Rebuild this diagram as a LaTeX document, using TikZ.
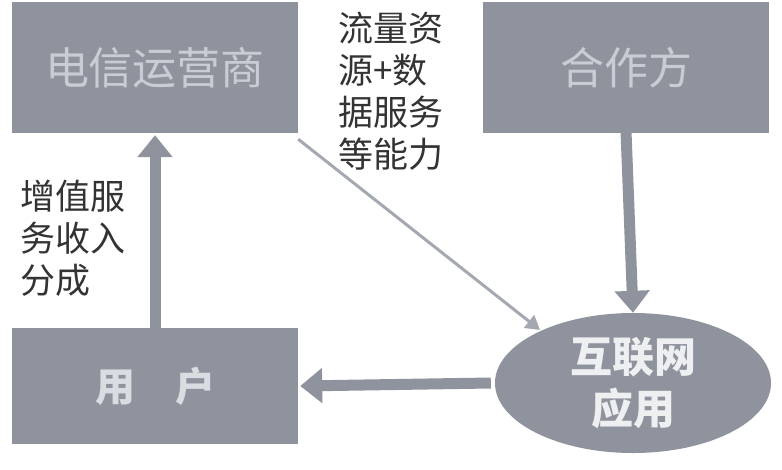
\documentclass[tikz,border=0pt]{standalone}
\usepackage{fontspec}
\setmainfont{Noto Sans CJK SC}
\usetikzlibrary{shapes.geometric,arrows.meta}
\definecolor{boxgray}{HTML}{8E939D}
\definecolor{txtgray}{HTML}{C9CDD3}
\tikzset{
  party/.style={fill=boxgray, minimum width=286pt, minimum height=#1, inner sep=0pt},
  party/.default=131pt,
  bigarrow/.style={boxgray, line width=11pt, -{Triangle[length=22pt,width=34pt]}},
  note/.style={align=left, text=black!80, font=\fontsize{35}{42}\selectfont, inner sep=0pt}
}
\begin{document}
\begin{tikzpicture}[x=1pt,y=-1pt]
\useasboundingbox (0,0) rectangle (782,469);
% parties
\node[party] (op) at (155,67.5) {\fontsize{44}{50}\selectfont\color{txtgray}电信运营商};
\node[party] (pa) at (626,67.5) {\fontsize{44}{50}\selectfont\color{txtgray}合作方};
\node[party=116pt] (us) at (155,386) {\fontsize{40}{46}\selectfont\bfseries\color{txtgray!70!white}用\hspace{1em}户};
\node[ellipse, fill=boxgray, minimum width=276pt, minimum height=140pt, inner sep=0pt, align=center,
  font=\fontsize{42}{52}\selectfont\bfseries, text=white!85!boxgray] (app) at (633,383) {互联网\\应用};
% flows
\draw[bigarrow] (us.north) -- ([yshift=-2pt]op.south);
\draw[bigarrow] ([yshift=2pt]pa.south) -- (app.north);
\draw[bigarrow] ([xshift=-4pt]app.west) -- ([xshift=2pt]us.east);
\draw[boxgray!80!white, line width=3pt, -{Triangle[length=14pt,width=16pt]}]
  ([yshift=-6pt]op.south east) -- (540,330);
% labels
\node[note, anchor=north west] (lf) at (338,12) {流量资\\源+数\\据服务\\等能力};
\node[note, anchor=north west] (lr) at (20,180) {增值服\\务收入\\分成};
\end{tikzpicture}
\end{document}
